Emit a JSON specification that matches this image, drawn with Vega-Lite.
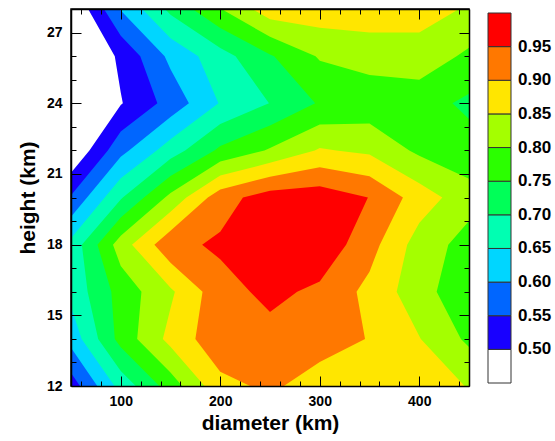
{
  "$schema": "https://vega.github.io/schema/vega-lite/v6.json",
  "width": 398,
  "height": 377,
  "autosize": {"type": "none"},
  "padding": {"left": 71, "top": 9, "right": 86, "bottom": 55},
  "config": {
    "view": {"stroke": "black", "strokeWidth": 1.5},
    "font": "Liberation Sans",
    "axis": {
      "grid": false,
      "zindex": 1,
      "tickColor": "black",
      "tickWidth": 1,
      "domainColor": "black",
      "domainWidth": 1.5,
      "labelFont": "Liberation Sans",
      "labelFontWeight": "bold",
      "labelFontSize": 14,
      "labelColor": "black",
      "titleFont": "Liberation Sans",
      "titleFontWeight": "bold",
      "titleFontSize": 21,
      "titleColor": "black"
    }
  },
  "data": {
    "values": [
      {"p":"p01","v":0.5,"i":0,"x":67.2,"y":28},{"p":"p01","v":0.5,"i":1,"x":450,"y":28},{"p":"p01","v":0.5,"i":2,"x":450,"y":12},{"p":"p01","v":0.5,"i":3,"x":50,"y":12},{"p":"p01","v":0.5,"i":4,"x":50,"y":21.05},{"p":"p01","v":0.5,"i":5,"x":68.5,"y":22},{"p":"p01","v":0.5,"i":6,"x":100,"y":23.93},{"p":"p01","v":0.5,"i":7,"x":102.1,"y":24},{"p":"p01","v":0.5,"i":8,"x":100,"y":24.46},{"p":"p01","v":0.5,"i":9,"x":94.0,"y":26},
      {"p":"p02","v":0.55,"i":0,"x":83.1,"y":28},{"p":"p02","v":0.55,"i":1,"x":450,"y":28},{"p":"p02","v":0.55,"i":2,"x":450,"y":12},{"p":"p02","v":0.55,"i":3,"x":59,"y":12},{"p":"p02","v":0.55,"i":4,"x":50,"y":12.55},{"p":"p02","v":0.55,"i":5,"x":50,"y":20.1},{"p":"p02","v":0.55,"i":6,"x":87,"y":22},{"p":"p02","v":0.55,"i":7,"x":100,"y":22.8},{"p":"p02","v":0.55,"i":8,"x":136.8,"y":24},{"p":"p02","v":0.55,"i":9,"x":119.6,"y":26},{"p":"p02","v":0.55,"i":10,"x":100,"y":26.86},
      {"p":"p03","v":0.6,"i":0,"x":99,"y":28},{"p":"p03","v":0.6,"i":1,"x":450,"y":28},{"p":"p03","v":0.6,"i":2,"x":450,"y":12},{"p":"p03","v":0.6,"i":3,"x":76.4,"y":12},{"p":"p03","v":0.6,"i":4,"x":50,"y":13.62},{"p":"p03","v":0.6,"i":5,"x":50,"y":19.18},{"p":"p03","v":0.6,"i":6,"x":66.1,"y":20},{"p":"p03","v":0.6,"i":7,"x":100,"y":21.73},{"p":"p03","v":0.6,"i":8,"x":108.3,"y":22},{"p":"p03","v":0.6,"i":9,"x":150,"y":23.42},{"p":"p03","v":0.6,"i":10,"x":168.5,"y":24},{"p":"p03","v":0.6,"i":11,"x":150,"y":25.44},{"p":"p03","v":0.6,"i":12,"x":144.1,"y":26},{"p":"p03","v":0.6,"i":13,"x":100,"y":27.94},
      {"p":"p04","v":0.65,"i":0,"x":121.6,"y":28},{"p":"p04","v":0.65,"i":1,"x":450,"y":28},{"p":"p04","v":0.65,"i":2,"x":450,"y":12},{"p":"p04","v":0.65,"i":3,"x":93.75,"y":12},{"p":"p04","v":0.65,"i":4,"x":60.7,"y":14},{"p":"p04","v":0.65,"i":5,"x":50,"y":15.36},{"p":"p04","v":0.65,"i":6,"x":50,"y":18.27},{"p":"p04","v":0.65,"i":7,"x":83.9,"y":20},{"p":"p04","v":0.65,"i":8,"x":100,"y":20.82},{"p":"p04","v":0.65,"i":9,"x":136.1,"y":22},{"p":"p04","v":0.65,"i":10,"x":150,"y":22.47},{"p":"p04","v":0.65,"i":11,"x":198.2,"y":24},{"p":"p04","v":0.65,"i":12,"x":177.9,"y":26},{"p":"p04","v":0.65,"i":13,"x":150,"y":26.76},
      {"p":"p05","v":0.7,"i":0,"x":144.5,"y":28},{"p":"p05","v":0.7,"i":1,"x":450,"y":28},{"p":"p05","v":0.7,"i":2,"x":450,"y":12},{"p":"p05","v":0.7,"i":3,"x":115.1,"y":12},{"p":"p05","v":0.7,"i":4,"x":100,"y":12.64},{"p":"p05","v":0.7,"i":5,"x":77.3,"y":14},{"p":"p05","v":0.7,"i":6,"x":66.7,"y":16},{"p":"p05","v":0.7,"i":7,"x":60.9,"y":18},{"p":"p05","v":0.7,"i":8,"x":100,"y":19.92},{"p":"p05","v":0.7,"i":9,"x":102.1,"y":20},{"p":"p05","v":0.7,"i":10,"x":150,"y":21.64},{"p":"p05","v":0.7,"i":11,"x":164.7,"y":22},{"p":"p05","v":0.7,"i":12,"x":200,"y":23.12},{"p":"p05","v":0.7,"i":13,"x":248.96,"y":24},{"p":"p05","v":0.7,"i":14,"x":215.4,"y":26},{"p":"p05","v":0.7,"i":15,"x":200,"y":26.34},{"p":"p05","v":0.7,"i":16,"x":150,"y":27.76},
      {"p":"p06","v":0.75,"i":0,"x":172.1,"y":28},{"p":"p06","v":0.75,"i":1,"x":450,"y":28},{"p":"p06","v":0.75,"i":2,"x":450,"y":24.4},{"p":"p06","v":0.75,"i":3,"x":433.3,"y":24},{"p":"p06","v":0.75,"i":4,"x":450,"y":23.33},{"p":"p06","v":0.75,"i":5,"x":450,"y":12},{"p":"p06","v":0.75,"i":6,"x":138.7,"y":12},{"p":"p06","v":0.75,"i":7,"x":100,"y":13.64},{"p":"p06","v":0.75,"i":8,"x":94,"y":14},{"p":"p06","v":0.75,"i":9,"x":90.5,"y":16},{"p":"p06","v":0.75,"i":10,"x":76.6,"y":18},{"p":"p06","v":0.75,"i":11,"x":100,"y":19.15},{"p":"p06","v":0.75,"i":12,"x":123.3,"y":20},{"p":"p06","v":0.75,"i":13,"x":150,"y":20.91},{"p":"p06","v":0.75,"i":14,"x":194.1,"y":22},{"p":"p06","v":0.75,"i":15,"x":200,"y":22.19},{"p":"p06","v":0.75,"i":16,"x":250,"y":23.06},{"p":"p06","v":0.75,"i":17,"x":295.4,"y":24},{"p":"p06","v":0.75,"i":18,"x":254.2,"y":26},{"p":"p06","v":0.75,"i":19,"x":250,"y":26.07},{"p":"p06","v":0.75,"i":20,"x":200,"y":27.19},
      {"p":"p07","v":0.8,"i":0,"x":201.2,"y":28},{"p":"p07","v":0.8,"i":1,"x":450,"y":28},{"p":"p07","v":0.8,"i":2,"x":450,"y":26.36},{"p":"p07","v":0.8,"i":3,"x":437.5,"y":26},{"p":"p07","v":0.8,"i":4,"x":400,"y":25},{"p":"p07","v":0.8,"i":5,"x":350,"y":25.2},{"p":"p07","v":0.8,"i":6,"x":300,"y":25.8},{"p":"p07","v":0.8,"i":7,"x":295.8,"y":26},{"p":"p07","v":0.8,"i":8,"x":250,"y":26.82},
      {"p":"p08","v":0.8,"i":0,"x":161.7,"y":12},{"p":"p08","v":0.8,"i":1,"x":450,"y":12},{"p":"p08","v":0.8,"i":2,"x":450,"y":13.66},{"p":"p08","v":0.8,"i":3,"x":441.9,"y":14},{"p":"p08","v":0.8,"i":4,"x":417.5,"y":16},{"p":"p08","v":0.8,"i":5,"x":429.2,"y":18},{"p":"p08","v":0.8,"i":6,"x":450,"y":19},{"p":"p08","v":0.8,"i":7,"x":450,"y":20.8},{"p":"p08","v":0.8,"i":8,"x":400,"y":21.77},{"p":"p08","v":0.8,"i":9,"x":390,"y":22},{"p":"p08","v":0.8,"i":10,"x":350,"y":23.14},{"p":"p08","v":0.8,"i":11,"x":300,"y":23.1},{"p":"p08","v":0.8,"i":12,"x":250,"y":22.1},{"p":"p08","v":0.8,"i":13,"x":244.4,"y":22},{"p":"p08","v":0.8,"i":14,"x":200,"y":21.53},{"p":"p08","v":0.8,"i":15,"x":150,"y":20.19},{"p":"p08","v":0.8,"i":16,"x":144.5,"y":20},{"p":"p08","v":0.8,"i":17,"x":100,"y":18.38},{"p":"p08","v":0.8,"i":18,"x":92.2,"y":18},{"p":"p08","v":0.8,"i":19,"x":100,"y":17.09},{"p":"p08","v":0.8,"i":20,"x":120.8,"y":16},{"p":"p08","v":0.8,"i":21,"x":116.5,"y":14},{"p":"p08","v":0.8,"i":22,"x":150,"y":12.57},
      {"p":"p09","v":0.85,"i":0,"x":232.1,"y":28},{"p":"p09","v":0.85,"i":1,"x":440,"y":28},{"p":"p09","v":0.85,"i":2,"x":400,"y":27},{"p":"p09","v":0.85,"i":3,"x":350,"y":27},{"p":"p09","v":0.85,"i":4,"x":300,"y":27.2},{"p":"p09","v":0.85,"i":5,"x":250,"y":27.57},
      {"p":"p10","v":0.85,"i":0,"x":184.2,"y":12},{"p":"p10","v":0.85,"i":1,"x":445.5,"y":12},{"p":"p10","v":0.85,"i":2,"x":401.6,"y":14},{"p":"p10","v":0.85,"i":3,"x":400,"y":14.125},{"p":"p10","v":0.85,"i":4,"x":377.3,"y":16},{"p":"p10","v":0.85,"i":5,"x":387.9,"y":18},{"p":"p10","v":0.85,"i":6,"x":400,"y":18.92},{"p":"p10","v":0.85,"i":7,"x":423.2,"y":20},{"p":"p10","v":0.85,"i":8,"x":400,"y":20.6},{"p":"p10","v":0.85,"i":9,"x":350,"y":21.82},{"p":"p10","v":0.85,"i":10,"x":316.7,"y":22},{"p":"p10","v":0.85,"i":11,"x":300,"y":22.1},{"p":"p10","v":0.85,"i":12,"x":295,"y":22},{"p":"p10","v":0.85,"i":13,"x":250,"y":21.47},{"p":"p10","v":0.85,"i":14,"x":200,"y":20.93},{"p":"p10","v":0.85,"i":15,"x":165.9,"y":20},{"p":"p10","v":0.85,"i":16,"x":150,"y":19.4},{"p":"p10","v":0.85,"i":17,"x":111.3,"y":18},{"p":"p10","v":0.85,"i":18,"x":150,"y":16.17},{"p":"p10","v":0.85,"i":19,"x":154.4,"y":16},{"p":"p10","v":0.85,"i":20,"x":150,"y":15.3},{"p":"p10","v":0.85,"i":21,"x":142.3,"y":14},{"p":"p10","v":0.85,"i":22,"x":150,"y":13.67},
      {"p":"p11","v":0.9,"i":0,"x":230,"y":12},{"p":"p11","v":0.9,"i":1,"x":263.9,"y":12},{"p":"p11","v":0.9,"i":2,"x":300,"y":13.02},{"p":"p11","v":0.9,"i":3,"x":345.5,"y":14},{"p":"p11","v":0.9,"i":4,"x":337,"y":16},{"p":"p11","v":0.9,"i":5,"x":350,"y":16.85},{"p":"p11","v":0.9,"i":6,"x":360.4,"y":18},{"p":"p11","v":0.9,"i":7,"x":383.6,"y":20},{"p":"p11","v":0.9,"i":8,"x":350,"y":20.9},{"p":"p11","v":0.9,"i":9,"x":300,"y":21.28},{"p":"p11","v":0.9,"i":10,"x":250,"y":20.88},{"p":"p11","v":0.9,"i":11,"x":200,"y":20.34},{"p":"p11","v":0.9,"i":12,"x":187.5,"y":20},{"p":"p11","v":0.9,"i":13,"x":150,"y":18.59},{"p":"p11","v":0.9,"i":14,"x":133.8,"y":18},{"p":"p11","v":0.9,"i":15,"x":150,"y":17.23},{"p":"p11","v":0.9,"i":16,"x":182.2,"y":16},{"p":"p11","v":0.9,"i":17,"x":175,"y":14},{"p":"p11","v":0.9,"i":18,"x":200,"y":12.6},
      {"p":"p12","v":0.95,"i":0,"x":250,"y":20.29},{"p":"p12","v":0.95,"i":1,"x":300,"y":20.48},{"p":"p12","v":0.95,"i":2,"x":348.4,"y":20},{"p":"p12","v":0.95,"i":3,"x":326.5,"y":18},{"p":"p12","v":0.95,"i":4,"x":300,"y":16.44},{"p":"p12","v":0.95,"i":5,"x":277.3,"y":16},{"p":"p12","v":0.95,"i":6,"x":250,"y":15.14},{"p":"p12","v":0.95,"i":7,"x":230,"y":16},{"p":"p12","v":0.95,"i":8,"x":200,"y":17.38},{"p":"p12","v":0.95,"i":9,"x":181.8,"y":18},{"p":"p12","v":0.95,"i":10,"x":200,"y":18.55},{"p":"p12","v":0.95,"i":11,"x":222.8,"y":20}
    ]
  },
  "layer": [
    {
      "mark": {"type": "line", "strokeWidth": 0, "stroke": "transparent", "interpolate": "linear"},
      "encoding": {
        "x": {"field": "x", "type": "quantitative", "scale": {"domain": [50, 450], "nice": false, "zero": false},
          "axis": {"orient": "bottom", "values": [100, 200, 300, 400], "ticks": false, "tickSize": 0, "domain": false, "labelPadding": 8, "title": "diameter (km)", "titlePadding": 4, "zindex": 2}},
        "y": {"field": "y", "type": "quantitative", "scale": {"domain": [12, 28], "nice": false, "zero": false},
          "axis": {"orient": "left", "values": [12, 15, 18, 21, 24, 27], "ticks": false, "tickSize": 0, "domain": false, "labelPadding": 9, "title": "height (km)", "titlePadding": 8, "zindex": 2}},
        "fill": {"field": "v", "type": "quantitative",
          "scale": {"type": "threshold", "domain": [0.5, 0.55, 0.6, 0.65, 0.7, 0.75, 0.8, 0.85, 0.9, 0.95],
            "range": ["#ffffff", "#1800ff", "#0066ff", "#00d6ff", "#00ffb2", "#00ff58", "#2bff00", "#a4ff00", "#ffe600", "#ff7800", "#ff0000"]},
          "legend": {"type": "gradient", "orient": "none", "legendX": 417, "legendY": 4, "direction": "vertical", "gradientLength": 370, "gradientThickness": 23, "title": null, "format": ".2f", "labelFont": "Liberation Sans", "labelFontSize": 17, "labelFontWeight": "bold", "labelColor": "black", "labelOffset": 7, "labelOverlap": false, "gradientStrokeColor": "#333333", "gradientStrokeWidth": 1, "padding": 0}},
        "detail": {"field": "p", "type": "nominal"},
        "order": {"field": "i", "type": "quantitative"}
      }
    },
    {
      "mark": {"type": "point", "opacity": 0},
      "encoding": {
        "x": {"field": "x", "type": "quantitative", "scale": {"domain": [50, 450], "nice": false, "zero": false},
          "axis": {"orient": "bottom", "values": [100, 200, 300, 400], "tickSize": -10, "labels": false, "domain": true, "title": null, "zindex": 3}},
        "y": {"field": "y", "type": "quantitative", "scale": {"domain": [12, 28], "nice": false, "zero": false},
          "axis": {"orient": "left", "values": [12, 15, 18, 21, 24, 27], "tickSize": -10, "labels": false, "domain": true, "title": null, "zindex": 3}}
      }
    },
    {
      "mark": {"type": "point", "opacity": 0},
      "encoding": {
        "x": {"field": "x", "type": "quantitative", "scale": {"domain": [50, 450], "nice": false, "zero": false},
          "axis": {"orient": "bottom", "values": [60, 80, 120, 140, 160, 180, 220, 240, 260, 280, 320, 340, 360, 380, 420, 440], "tickSize": -5, "labels": false, "domain": false, "title": null, "zindex": 3}},
        "y": {"field": "y", "type": "quantitative", "scale": {"domain": [12, 28], "nice": false, "zero": false},
          "axis": {"orient": "left", "values": [13, 14, 16, 17, 19, 20, 22, 23, 25, 26], "tickSize": -5, "labels": false, "domain": false, "title": null, "zindex": 3}}
      }
    },
    {
      "mark": {"type": "point", "opacity": 0},
      "encoding": {
        "x": {"field": "x", "type": "quantitative", "scale": {"domain": [50, 450], "nice": false, "zero": false},
          "axis": {"orient": "top", "values": [100, 200, 300, 400], "tickSize": -10, "labels": false, "domain": true, "title": null, "zindex": 3}},
        "y": {"field": "y", "type": "quantitative", "scale": {"domain": [12, 28], "nice": false, "zero": false},
          "axis": {"orient": "right", "values": [12, 15, 18, 21, 24, 27], "tickSize": -10, "labels": false, "domain": true, "title": null, "zindex": 3}}
      }
    },
    {
      "mark": {"type": "point", "opacity": 0},
      "encoding": {
        "x": {"field": "x", "type": "quantitative", "scale": {"domain": [50, 450], "nice": false, "zero": false},
          "axis": {"orient": "top", "values": [60, 80, 120, 140, 160, 180, 220, 240, 260, 280, 320, 340, 360, 380, 420, 440], "tickSize": -5, "labels": false, "domain": false, "title": null, "zindex": 3}},
        "y": {"field": "y", "type": "quantitative", "scale": {"domain": [12, 28], "nice": false, "zero": false},
          "axis": {"orient": "right", "values": [13, 14, 16, 17, 19, 20, 22, 23, 25, 26], "tickSize": -5, "labels": false, "domain": false, "title": null, "zindex": 3}}
      }
    }
  ],
  "resolve": {"axis": {"x": "independent", "y": "independent"}}
}
